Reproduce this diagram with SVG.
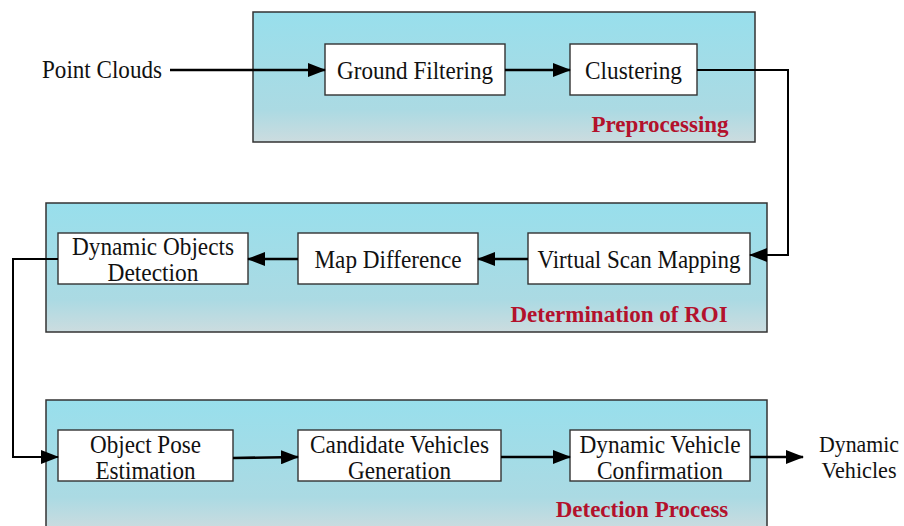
<svg xmlns="http://www.w3.org/2000/svg" width="904" height="526" viewBox="0 0 904 526">
  <defs>
    <linearGradient id="panelFill" x1="0" y1="0" x2="0" y2="1">
      <stop offset="0" stop-color="#98DFEC"/>
      <stop offset="0.75" stop-color="#ABDAE3"/>
      <stop offset="1" stop-color="#CCDCDF"/>
    </linearGradient>
    <marker id="arrowHead" markerUnits="userSpaceOnUse" markerWidth="18" markerHeight="14" refX="17" refY="7" orient="auto">
      <path d="M0,0 L18,7 L0,14 Z" fill="#000"/>
    </marker>
    <style>
      .panel { fill: url(#panelFill); stroke: #333; stroke-width: 1.5; }
      .box { fill: #fff; stroke: #333; stroke-width: 1.4; }
      .txt { font-family: "Liberation Serif", "Times New Roman", serif; font-size: 25px; fill: #111; text-anchor: middle; }
      .txt.out { font-size: 23px; }
      .label { font-family: "Liberation Serif", "Times New Roman", serif; font-size: 23px; font-weight: bold; fill: #B3112C; text-anchor: middle; }
      .conn { fill: none; stroke: #000; stroke-width: 2.6; marker-end: url(#arrowHead); }
      .conn.thin { stroke-width: 2; }
    </style>
  </defs>

  <!-- stage panels -->
  <g id="panel-preprocessing">
    <rect class="panel" x="253" y="12" width="502" height="130"/>
    <text class="label" x="660" y="132">Preprocessing</text>
  </g>
  <g id="panel-roi">
    <rect class="panel" x="46" y="203" width="721" height="129"/>
    <text class="label" x="619" y="322">Determination of ROI</text>
  </g>
  <g id="panel-detection">
    <rect class="panel" x="46" y="400" width="721" height="130"/>
    <text class="label" x="642" y="517">Detection Process</text>
  </g>

  <!-- input / output labels -->
  <g id="input-point-clouds">
    <text class="txt" x="102" y="78" textLength="120" lengthAdjust="spacingAndGlyphs">Point Clouds</text>
  </g>
  <g id="output-dynamic-vehicles">
    <text class="txt out" x="859" y="452" textLength="80" lengthAdjust="spacingAndGlyphs">Dynamic</text>
    <text class="txt out" x="859" y="478" textLength="75" lengthAdjust="spacingAndGlyphs">Vehicles</text>
  </g>

  <!-- processing nodes -->
  <g id="node-ground-filtering">
    <rect class="box" x="325" y="44" width="180" height="51"/>
    <text class="txt" x="415" y="79" textLength="156" lengthAdjust="spacingAndGlyphs">Ground Filtering</text>
  </g>
  <g id="node-clustering">
    <rect class="box" x="570" y="44" width="127" height="51"/>
    <text class="txt" x="633.5" y="79" textLength="97" lengthAdjust="spacingAndGlyphs">Clustering</text>
  </g>
  <g id="node-virtual-scan-mapping">
    <rect class="box" x="528" y="233" width="222" height="51"/>
    <text class="txt" x="639" y="268" textLength="203" lengthAdjust="spacingAndGlyphs">Virtual Scan Mapping</text>
  </g>
  <g id="node-map-difference">
    <rect class="box" x="298" y="233" width="180" height="51"/>
    <text class="txt" x="388" y="268" textLength="147" lengthAdjust="spacingAndGlyphs">Map Difference</text>
  </g>
  <g id="node-dynamic-objects-detection">
    <rect class="box" x="58" y="233" width="190" height="51"/>
    <text class="txt" x="153" y="255" textLength="162" lengthAdjust="spacingAndGlyphs">Dynamic Objects</text>
    <text class="txt" x="153" y="281" textLength="91" lengthAdjust="spacingAndGlyphs">Detection</text>
  </g>
  <g id="node-object-pose-estimation">
    <rect class="box" x="58" y="430" width="175" height="51"/>
    <text class="txt" x="145.5" y="453" textLength="111" lengthAdjust="spacingAndGlyphs">Object Pose</text>
    <text class="txt" x="145.5" y="479" textLength="100" lengthAdjust="spacingAndGlyphs">Estimation</text>
  </g>
  <g id="node-candidate-vehicles-generation">
    <rect class="box" x="298" y="430" width="203" height="51"/>
    <text class="txt" x="399.5" y="453" textLength="179" lengthAdjust="spacingAndGlyphs">Candidate Vehicles</text>
    <text class="txt" x="399.5" y="479" textLength="103" lengthAdjust="spacingAndGlyphs">Generation</text>
  </g>
  <g id="node-dynamic-vehicle-confirmation">
    <rect class="box" x="570" y="430" width="180" height="51"/>
    <text class="txt" x="660" y="453" textLength="161" lengthAdjust="spacingAndGlyphs">Dynamic Vehicle</text>
    <text class="txt" x="660" y="479" textLength="126" lengthAdjust="spacingAndGlyphs">Confirmation</text>
  </g>

  <!-- connectors -->
  <g id="connectors">
    <path class="conn" d="M170,70 L325,70"/>
    <path class="conn" d="M505,70 L570,70"/>
    <path class="conn thin" d="M697,70 L788,70 L788,255 L750,255"/>
    <path class="conn" d="M528,259 L478,259"/>
    <path class="conn" d="M298,259 L248,259"/>
    <path class="conn thin" d="M58,259 L13,259 L13,457 L58,457"/>
    <path class="conn" d="M233,458 L298,457"/>
    <path class="conn" d="M501,457 L570,457"/>
    <path class="conn" d="M750,457 L803,457"/>
  </g>
</svg>
